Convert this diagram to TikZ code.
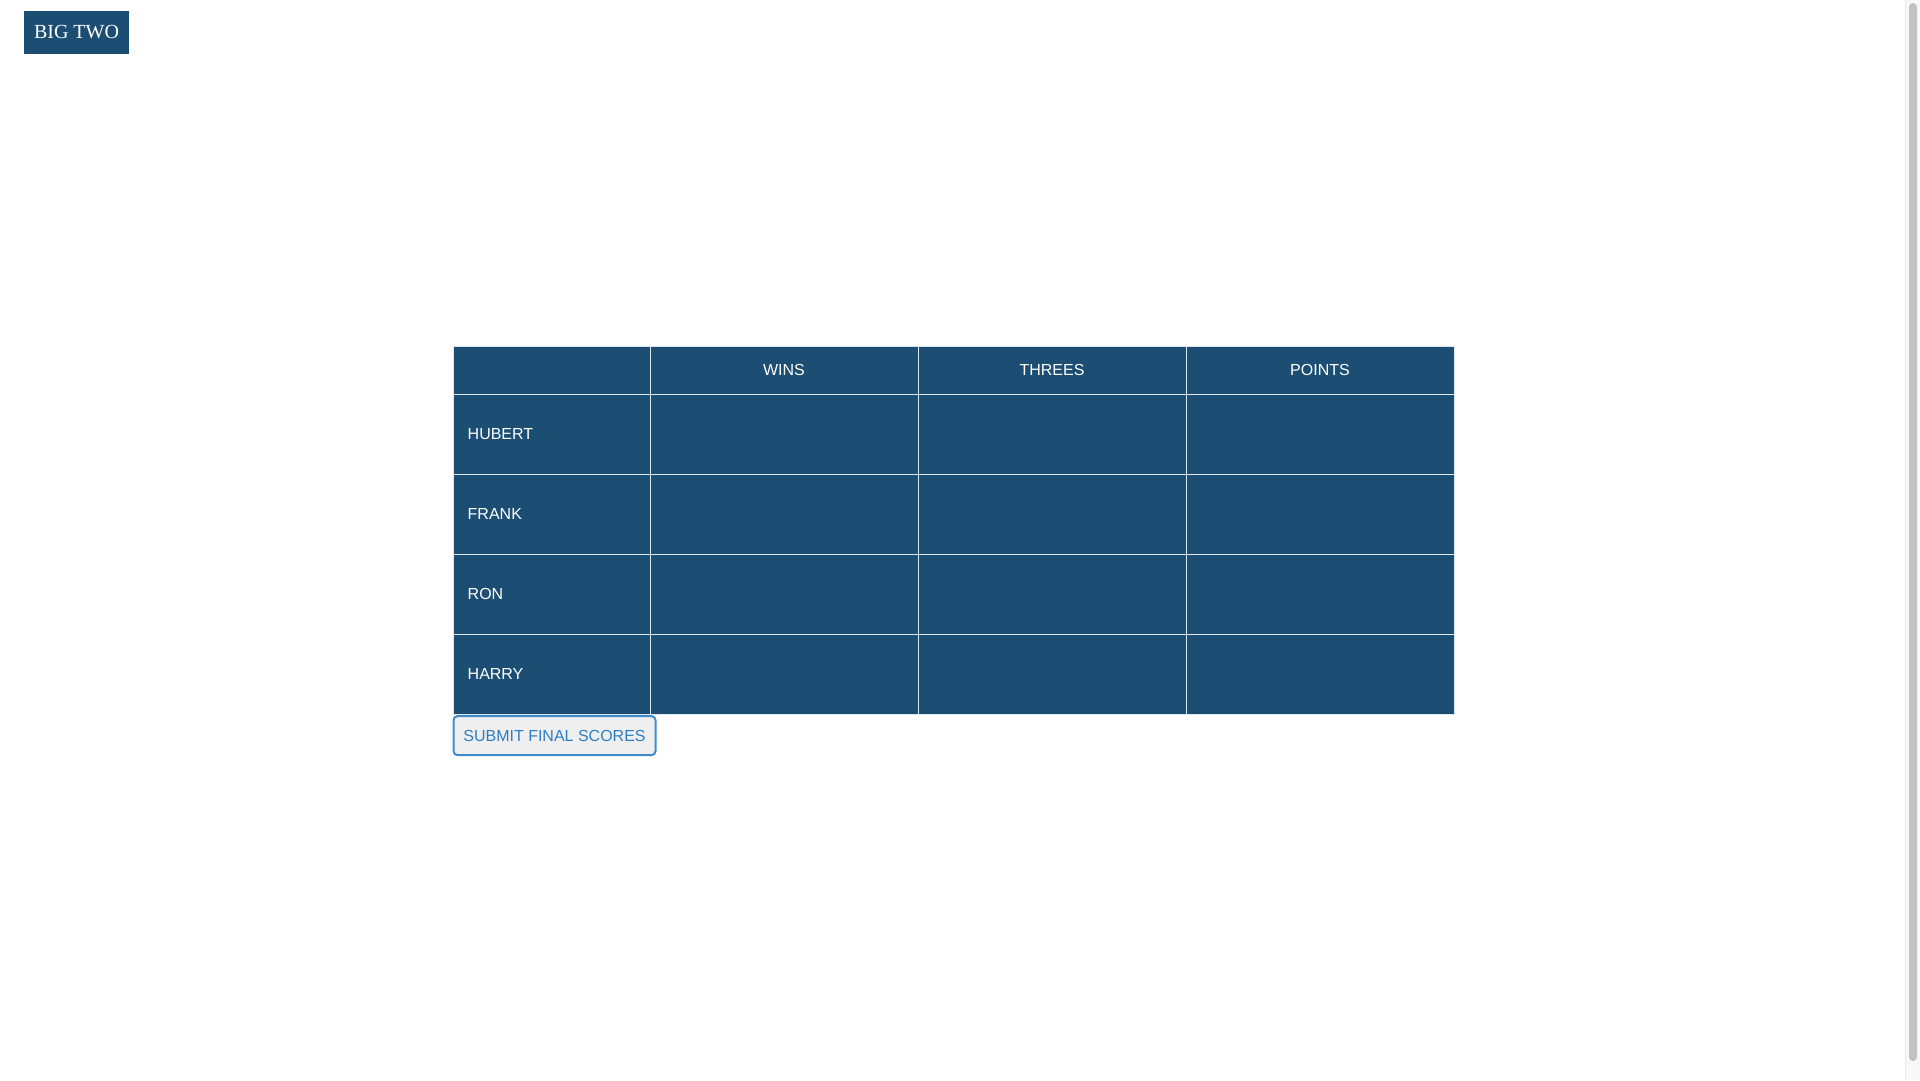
\documentclass[tikz,border=0pt]{standalone}
\usepackage{fontspec}
\setmainfont{Liberation Sans}
\newfontfamily\titlefont{Liberation Serif}
\usetikzlibrary{positioning}
\definecolor{navy}{RGB}{28,77,115}
\definecolor{gridline}{RGB}{220,232,240}
\definecolor{btnblue}{RGB}{62,140,204}
\definecolor{btntext}{RGB}{44,126,194}
\definecolor{btngray}{RGB}{239,239,239}
\definecolor{scrolltrack}{RGB}{248,248,248}
\definecolor{scrollline}{RGB}{232,232,232}
\definecolor{scrollthumb}{RGB}{194,194,194}
\begin{document}
\begin{tikzpicture}[
  x=1pt,
  y=-1pt,
  inner sep=0pt,
  font=\fontsize{16}{19}\selectfont,
  cell/.style={
    draw=gridline,
    line width=1pt,
    fill=navy,
    minimum height=80pt
  },
  head/.style={
    cell,
    minimum height=48pt
  },
  namecol/.style={
    minimum width=197pt
  },
  col/.style={
    minimum width=268pt
  },
  label/.style={
    text=white
  },
  titlebox/.style={
    fill=navy,
    text=white,
    minimum width=105pt,
    minimum height=43pt,
    font=\titlefont\fontsize{20}{24}\selectfont
  },
  button/.style={
    draw=btnblue,
    line width=2pt,
    fill=btngray,
    text=btntext,
    rounded corners=4pt,
    minimum width=202pt,
    minimum height=39pt
  }
  ]

  \useasboundingbox (0,0) rectangle (1920,1080);

  \node (title) [titlebox] at (76.5,32.5) {BIG TWO};

  % header row
  \node (corner) [head,namecol] at (551.5,370) {};
  \node (wins) [head,col] at (784,370) {};
  \node (threes) [head,col] at (1052,370) {};
  \node (points) [head,col] at (1320,370) {};

  % player rows
  \node (hubert) [cell,namecol] at (551.5,434) {};
  \node (hubert-wins) [cell,col] at (784,434) {};
  \node (hubert-threes) [cell,col] at (1052,434) {};
  \node (hubert-points) [cell,col] at (1320,434) {};

  \node (frank) [cell,namecol] at (551.5,514) {};
  \node (frank-wins) [cell,col] at (784,514) {};
  \node (frank-threes) [cell,col] at (1052,514) {};
  \node (frank-points) [cell,col] at (1320,514) {};

  \node (ron) [cell,namecol] at (551.5,594) {};
  \node (ron-wins) [cell,col] at (784,594) {};
  \node (ron-threes) [cell,col] at (1052,594) {};
  \node (ron-points) [cell,col] at (1320,594) {};

  \node (harry) [cell,namecol] at (551.5,674) {};
  \node (harry-wins) [cell,col] at (784,674) {};
  \node (harry-threes) [cell,col] at (1052,674) {};
  \node (harry-points) [cell,col] at (1320,674) {};

  % texts
  \node (wins-label) [label] at (wins) {WINS};
  \node (threes-label) [label] at (threes) {THREES};
  \node (points-label) [label] at (points) {POINTS};
  \node (hubert-label) [label,right=15pt of hubert.west] {HUBERT};
  \node (frank-label) [label,right=15pt of frank.west] {FRANK};
  \node (ron-label) [label,right=15pt of ron.west] {RON};
  \node (harry-label) [label,right=15pt of harry.west] {HARRY};

  \node (submit) [button] at (554.5,735.6) {SUBMIT FINAL SCORES};

  % scrollbar
  \fill [scrolltrack] (1905,0) rectangle (1920,1080);
  \draw [scrollline,line width=1pt] (1905.5,0) -- (1905.5,1080);
  \fill [scrollthumb,rounded corners=4pt] (1909,3) rectangle (1917,1061);
\end{tikzpicture}
\end{document}
